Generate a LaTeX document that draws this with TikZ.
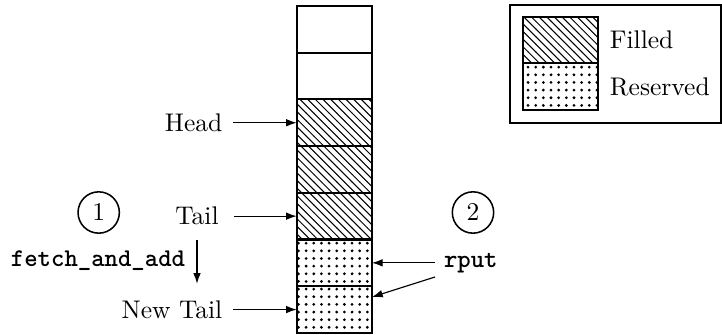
\documentclass[tikz,border=0pt]{standalone}
\usetikzlibrary{patterns,patterns.meta,arrows.meta}
\tikzdeclarepattern{
  name=bigdots,
  type=uncolored,
  bounding box={(-1.5pt,-1.5pt) and (1.5pt,1.5pt)},
  tile size={(3pt,3pt)},
  code={\fill (0pt,0pt) circle (0.6pt);}
}
\begin{document}
\begin{tikzpicture}[x=0.392pt,y=-0.392pt,
  cell/.style={draw, line width=0.8pt, minimum width=29.5pt, minimum height=18.3pt, inner sep=0pt, outer sep=0pt},
  filledcell/.style={cell, pattern=north west lines},
  reservedcell/.style={cell, pattern=bigdots, pattern color=black},
  arr/.style={-{Latex[length=4.2pt,width=3pt]}, line width=0.45pt},
  num/.style={circle, draw, line width=0.6pt, minimum size=16.2pt, inner sep=0pt},
  code/.style={font=\ttfamily\bfseries},
  legendbox/.style={draw, line width=0.5pt, minimum width=82.7pt, minimum height=46.3pt, inner sep=0pt}]
\useasboundingbox (0,0) rectangle (722,335);
% column
\node[cell] (c1) at (334.35,29.35) {};
\node[cell] (c2) at (334.35,76.05) {};
\node[filledcell] (c3) at (334.35,122.75) {};
\node[filledcell] (c4) at (334.35,169.45) {};
\node[filledcell] (c5) at (334.35,216.15) {};
\node[reservedcell] (c6) at (334.35,262.85) {};
\node[reservedcell] (c7) at (334.35,309.55) {};
% left labels
\node[anchor=east, inner sep=4pt] (head) at (233,122.75) {Head};
\node (tail) at (197,216.15) {Tail};
\node[anchor=east, inner sep=4pt] (newtail) at (233,309.55) {New Tail};
\node[code] (faa) at (98,261) {fetch\_and\_add};
\node[num] (n1) at (98.7,212.5) {1};
\coordinate (ts) at (234,216.15);
\draw[arr] (head.east) -- (c3.west);
\draw[arr] (ts) -- (c5.west);
\draw[arr] (newtail.east) -- (c7.west);
\draw[arr, shorten <=2.4pt, shorten >=2.4pt] (tail.south) -- (tail.south |- newtail.north);
% right labels
\node[num] (n2) at (473,212.5) {2};
\node[code, anchor=west] (rput) at (435,262.85) {rput};
\coordinate (rs) at (435,277);
\coordinate (c7hit) at (372,297);
\draw[arr] (rput.west) -- (c6.east);
\draw[arr] (rs) -- (c7hit);
% legend
\node[legendbox] (legend) at (615.5,64) {};
\node[filledcell] (lf) at (560.35,40) {};
\node[reservedcell] (lr) at (560.35,86.7) {};
\node[anchor=west, inner sep=4.5pt] (lft) at (lf.east) {Filled};
\node[anchor=west, inner sep=4.5pt] (lrt) at (lr.east) {Reserved};
\end{tikzpicture}
\end{document}
